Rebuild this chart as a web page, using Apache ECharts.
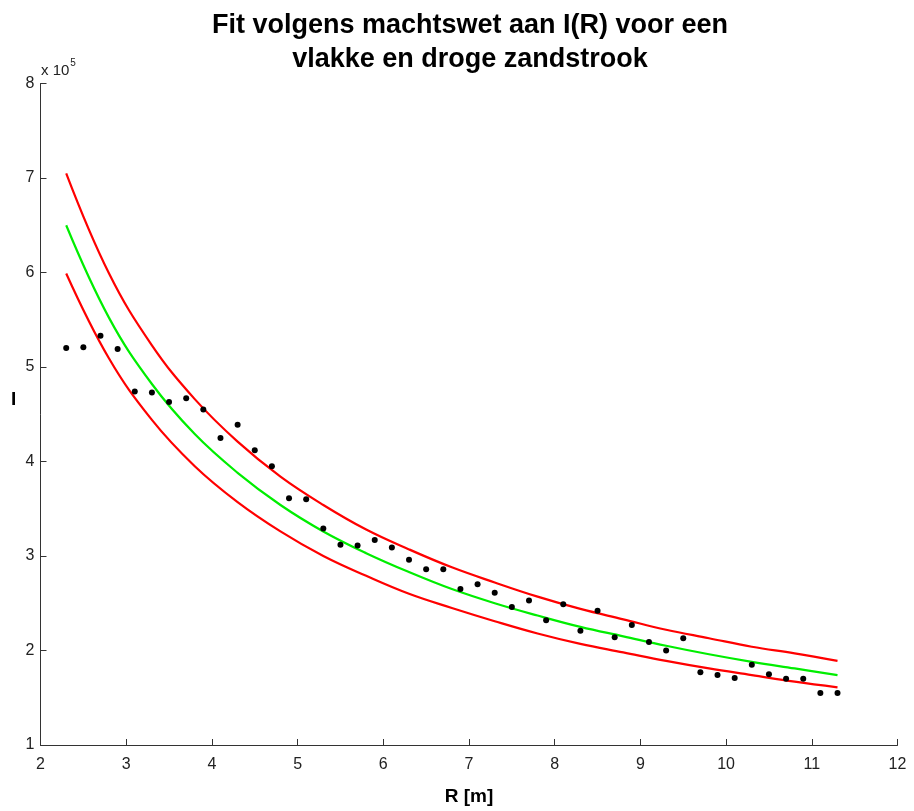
<!DOCTYPE html>
<html>
<head>
<meta charset="utf-8">
<script src="https://cdn.jsdelivr.net/npm/echarts@6/dist/echarts.min.js"></script>
<style>
html,body{margin:0;padding:0;background:#fff;}
#chart{width:914px;height:811px;}
</style>
</head>
<body>
<div id="chart"></div>
<script>
// Measured data points: R [m] and I
const radius = [2.3,2.5,2.7,2.9,3.1,3.3,3.5,3.7,3.9,4.1,4.3,4.5,4.7,4.9,5.1,5.3,5.5,5.7,5.9,6.1,6.3,6.5,6.7,6.9,7.1,7.3,7.5,7.7,7.9,8.1,8.3,8.5,8.7,8.9,9.1,9.3,9.5,9.7,9.9,10.1,10.3,10.5,10.7,10.9,11.1,11.3];
const intensity = [520000,521000,533000,519000,474000,473000,463000,467000,455000,425000,439000,412000,395000,361000,360000,329000,312000,311000,317000,309000,296000,286000,286000,265000,270000,261000,246000,253000,232000,249000,221000,242000,214000,227000,209000,200000,213000,177000,174000,171000,185000,175000,170000,170000,155000,155000];

// Fit curves (power-law fit and its bounds)
const fitR = [2.3,2.8,3.3,3.8,4.3,4.8,5.3,5.8,6.3,6.8,7.3,7.8,8.3,8.8,9.3,9.8,10.3,10.8,11.3];
const fitI = [650000,552000,482000,429000,388000,354000,326000,303000,283000,265000,250000,237000,225000,215000,205000,196000,188000,181000,174000];
const upperI = [705000,599000,523000,466000,421000,384000,354000,328000,307000,288000,272000,257000,244000,233000,222000,213000,204000,197000,189000];
const lowerI = [599000,509000,444000,395000,357000,326000,300000,279000,260000,245000,231000,218000,207000,198000,189000,181000,174000,167000,161000];

// Axis ticks
const xTicks = [2,3,4,5,6,7,8,9,10,11,12];
const yTicks = [100000,200000,300000,400000,500000,600000,700000,800000];

const pair = (xs, ys) => xs.map((x, i) => [x, ys[i]]);
const FONT = 'Liberation Sans, Arial, Helvetica, sans-serif';

const chart = echarts.init(document.getElementById('chart'), null, {renderer: 'canvas'});
chart.setOption({
  backgroundColor: '#ffffff',
  animation: false,
  title: {
    text: 'Fit volgens machtswet aan I(R) voor een\nvlakke en droge zandstrook',
    left: 465,
    top: 4,
    textAlign: 'center',
    textStyle: {fontFamily: FONT, fontWeight: 'bold', fontSize: 27, color: '#000', lineHeight: 34}
  },
  grid: {left: 40.5, right: 16.5, top: 83.5, bottom: 66, containLabel: false, outerBoundsMode: 'none'},
  xAxis: {
    type: 'value',
    min: xTicks[0], max: xTicks[xTicks.length - 1], interval: 1,
    name: 'R [m]', nameLocation: 'middle', nameGap: 42,
    nameTextStyle: {fontFamily: FONT, fontWeight: 'bold', fontSize: 19, color: '#000'},
    axisLine: {show: true, onZero: false, lineStyle: {color: '#333', width: 1}},
    axisTick: {show: true, inside: true, length: 6, lineStyle: {color: '#333'}},
    axisLabel: {fontFamily: FONT, fontSize: 16, color: '#222', margin: 12},
    splitLine: {show: false}
  },
  yAxis: {
    type: 'value',
    min: yTicks[0], max: yTicks[yTicks.length - 1], interval: 100000,
    axisLine: {show: true, onZero: false, lineStyle: {color: '#333', width: 1}},
    axisTick: {show: true, inside: true, length: 6, lineStyle: {color: '#333'}},
    axisLabel: {fontFamily: FONT, fontSize: 16, color: '#222', margin: 6, formatter: v => String(v / 100000)},
    splitLine: {show: false}
  },
  graphic: [
    {type: 'text', left: 41, top: 58,
     style: {text: '{b|x 10}{s|5}', font: '14px ' + FONT, fill: '#222',
       rich: {b: {fontFamily: FONT, fontSize: 15, fill: '#222', verticalAlign: 'bottom'},
              s: {fontFamily: FONT, fontSize: 10, fill: '#222', verticalAlign: 'top', padding: [0, 0, 10, 1]}}}},
    {type: 'text', left: 11, top: 390,
     style: {text: 'I', font: 'bold 19px ' + FONT, fill: '#000'}}
  ],
  series: [
    {type: 'line', data: pair(fitR, upperI), smooth: 0.4, showSymbol: false, symbol: 'none',
     lineStyle: {color: '#ff0000', width: 2.2}, z: 2},
    {type: 'line', data: pair(fitR, lowerI), smooth: 0.4, showSymbol: false, symbol: 'none',
     lineStyle: {color: '#ff0000', width: 2.2}, z: 2},
    {type: 'line', data: pair(fitR, fitI), smooth: 0.4, showSymbol: false, symbol: 'none',
     lineStyle: {color: '#00ee00', width: 2.2}, z: 3},
    {type: 'scatter', data: pair(radius, intensity), symbol: 'circle', symbolSize: 6,
     itemStyle: {color: '#000', opacity: 1}, z: 5}
  ]
});
</script>
</body>
</html>
